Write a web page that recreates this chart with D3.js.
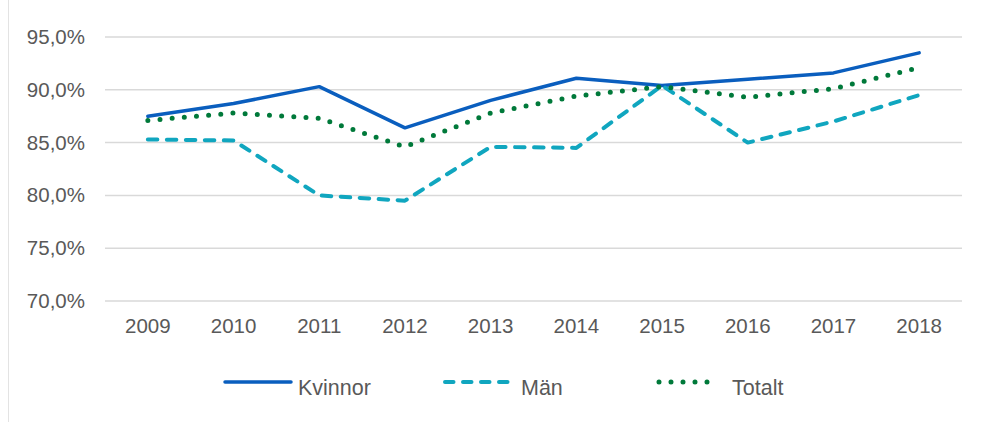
<!DOCTYPE html>
<html>
<head>
<meta charset="utf-8">
<script src="https://cdn.jsdelivr.net/npm/d3@7"></script>
<style>
  html, body { margin: 0; padding: 0; background: #fff; }
  svg { display: block; font-family: "Liberation Sans", Arial, sans-serif; }
</style>
</head>
<body>
<div id="chart"></div>
<script>
const years = ["2009", "2010", "2011", "2012", "2013", "2014", "2015", "2016", "2017", "2018"];
const kvinnor = [87.5, 88.7, 90.3, 86.4, 89.0, 91.1, 90.4, 91.0, 91.6, 93.5];
const man = [85.3, 85.2, 80.0, 79.5, 84.6, 84.5, 90.4, 85.0, 87.0, 89.5];
const totalt = [87.1, 87.8, 87.3, 84.6, 87.8, 89.4, 90.3, 89.3, 90.1, 92.1];
const yTicks = [70, 75, 80, 85, 90, 95];

const width = 981, height = 422;
const margin = { left: 105, right: 19, top: 37, bottom: 121 };
const font = "Liberation Sans, Arial, sans-serif";

/** series styles */
const series = [
  { name: "Kvinnor", values: kvinnor, color: "#0A5EBE", dash: null, width: 3.5 },
  { name: "Män", values: man, color: "#10A6BF", dash: "9.5 9.5", width: 4 },
  { name: "Totalt", values: totalt, color: "#00793A", dash: "0 12.2", width: 5 },
];

const svg = d3.select("#chart").append("svg")
  .attr("width", width).attr("height", height);

/** faint frame edge on the left */
svg.append("line")
  .attr("x1", 8.5).attr("x2", 8.5).attr("y1", 0).attr("y2", height)
  .attr("stroke", "#e3e3e3").attr("stroke-width", 1);

const x = d3.scaleBand()
  .domain(years)
  .range([margin.left, width - margin.right]);

const y = d3.scaleLinear()
  .domain([70, 95])
  .range([height - margin.bottom, margin.top]);

/** gridlines */
svg.append("g")
  .selectAll("line")
  .data(yTicks)
  .join("line")
  .attr("x1", margin.left).attr("x2", width - margin.right)
  .attr("y1", d => y(d)).attr("y2", d => y(d))
  .attr("stroke", "#d9d9d9").attr("stroke-width", 1.5);

/** y axis labels */
const fmt = d => d.toFixed(1).replace(".", ",") + "%";
const yAxis = d3.axisLeft(y).tickValues(yTicks).tickFormat(fmt).tickSize(0).tickPadding(20);
const yg = svg.append("g").attr("transform", `translate(${margin.left},0)`).call(yAxis);
yg.select(".domain").remove();
yg.selectAll("text").attr("font-size", 20.5).attr("fill", "#595959")
  .attr("font-family", font);

/** x axis labels */
const xAxis = d3.axisBottom(x).tickSize(0).tickPadding(17);
const xg = svg.append("g").attr("transform", `translate(0,${y(70)})`).call(xAxis);
xg.select(".domain").remove();
xg.selectAll("text").attr("font-size", 20.5).attr("fill", "#595959")
  .attr("font-family", font);

/** lines */
const line = d3.line()
  .x((d, i) => x(years[i]) + x.bandwidth() / 2)
  .y(d => y(d));

for (const s of series) {
  svg.append("path")
    .attr("d", line(s.values))
    .attr("fill", "none")
    .attr("stroke", s.color)
    .attr("stroke-width", s.width)
    .attr("stroke-linejoin", "round")
    .attr("stroke-linecap", "round")
    .attr("stroke-dasharray", s.dash);
}

/** legend: symbol start, symbol end, text start */
const legendPos = [[225, 291, 298], [445, 510, 521], [659, 719, 732]];
const legendY = 382;
const lg = svg.append("g");
series.forEach((s, i) => {
  const [x0, x1, tx] = legendPos[i];
  lg.append("line")
    .attr("x1", x0).attr("x2", x1)
    .attr("y1", legendY).attr("y2", legendY)
    .attr("stroke", s.color)
    .attr("stroke-width", s.width)
    .attr("stroke-linecap", "round")
    .attr("stroke-dasharray", i === 1 ? "8.5 9.5" : i === 2 ? "0 12" : null);
  lg.append("text")
    .attr("x", tx)
    .attr("y", legendY + 5)
    .attr("dy", "0.35em")
    .attr("font-size", 21.5)
    .attr("font-family", font)
    .attr("fill", "#595959")
    .text(s.name);
});
</script>
</body>
</html>
